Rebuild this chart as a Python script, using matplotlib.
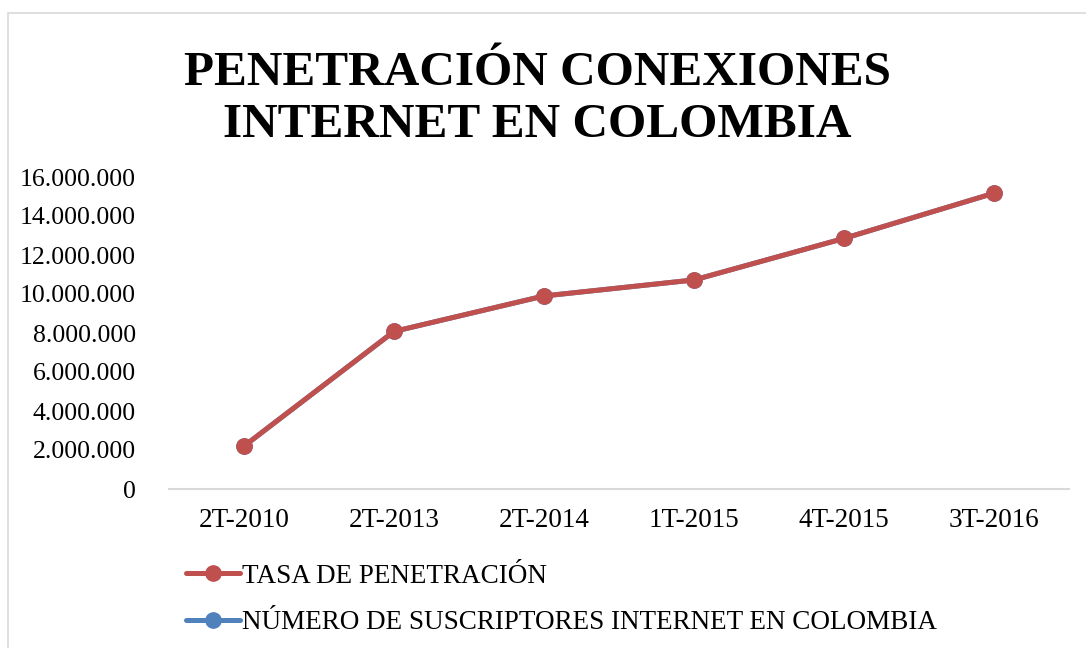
import matplotlib
matplotlib.use("Agg")
import matplotlib.pyplot as plt
from matplotlib.patches import Rectangle
from matplotlib.ticker import FuncFormatter

# datos
periodos = ["2T-2010", "2T-2013", "2T-2014", "1T-2015", "4T-2015", "3T-2016"]
tasa_penetracion = [2200000, 8080000, 9900000, 10720000, 12850000, 15170000]
suscriptores = [2200000, 8080000, 9900000, 10720000, 12850000, 15170000]

rojo = "#C0504D"
azul = "#4F81BD"
fuente = "Liberation Serif"

fig = plt.figure(figsize=(10.86, 6.48), dpi=100)
ax = fig.add_axes([169 / 1086, 1 - 489 / 648, 900 / 1086, 312 / 648])

# borde gris del área del gráfico
fig.patches.append(Rectangle((8 / 1086, -0.05), 1.1, 1 - 13 / 648 + 0.05,
                             transform=fig.transFigure, fill=False,
                             edgecolor="#D9D9D9", linewidth=1.2))

x = range(len(periodos))
ax.plot(x, suscriptores, color=azul, linewidth=3.6, marker="o", markersize=11,
        solid_capstyle="round", label="NÚMERO DE SUSCRIPTORES INTERNET EN COLOMBIA", zorder=2)
ax.plot(x, tasa_penetracion, color=rojo, linewidth=3.6, marker="o", markersize=11,
        solid_capstyle="round", label="TASA DE PENETRACIÓN", zorder=3)

ax.set_xlim(-0.5, len(periodos) - 0.5)
ax.set_ylim(0, 16000000)
ax.set_yticks(range(0, 16000001, 2000000))
ax.yaxis.set_major_formatter(FuncFormatter(lambda v, p: f"{int(v):,}".replace(",", ".")))
ax.set_xticks(list(x))
ax.set_xticklabels(periodos)

for s in ["top", "right", "left"]:
    ax.spines[s].set_visible(False)
ax.spines["bottom"].set_color("#D9D9D9")
ax.spines["bottom"].set_linewidth(1.5)
ax.tick_params(axis="both", length=0)
ax.tick_params(axis="y", labelsize=18.5, pad=24)
ax.tick_params(axis="x", labelsize=19.5, pad=14)
for lab in ax.get_xticklabels() + ax.get_yticklabels():
    lab.set_fontfamily(fuente)

# título en dos líneas
fig.text(537 / 1086, 1 - 85 / 648, "PENETRACIÓN CONEXIONES", ha="center", va="baseline",
         fontsize=35.5, fontweight="bold", family=fuente)
fig.text(537 / 1086, 1 - 137 / 648, "INTERNET EN COLOMBIA", ha="center", va="baseline",
         fontsize=35.5, fontweight="bold", family=fuente)

handles, labels = ax.get_legend_handles_labels()
leg = fig.legend(handles[::-1], labels[::-1], loc="upper left",
                 bbox_to_anchor=(172 / 1086, 1 - 550 / 648), frameon=False,
                 prop={"family": fuente, "size": 19.5}, handlelength=2.0,
                 handletextpad=0.1, labelspacing=0.8, borderpad=0)

fig.savefig("out.png", dpi=100)
